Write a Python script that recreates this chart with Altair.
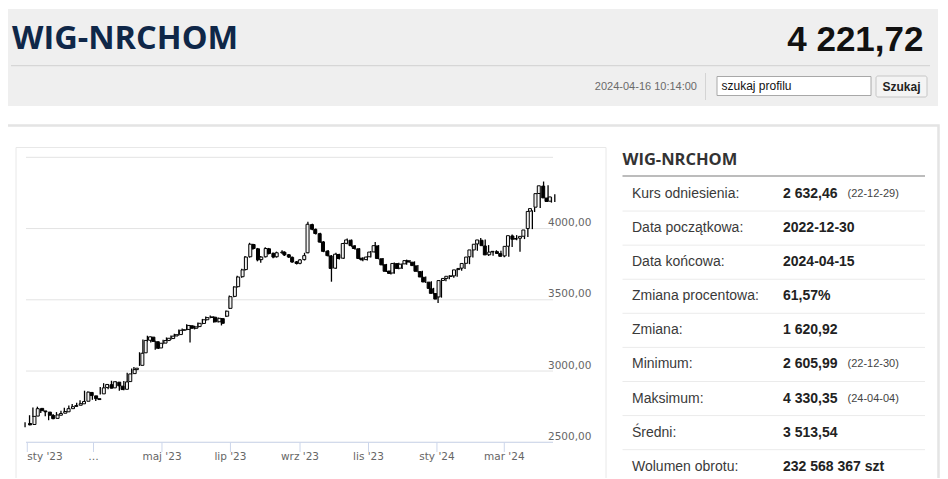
import altair as alt
import pandas as pd

# ---------------- texts ----------------
TITLE = "WIG-NRCHOM"
LAST_PRICE = "4 221,72"
TIMESTAMP = "2024-04-16 10:14:00"
SEARCH_PLACEHOLDER = "szukaj profilu"
SEARCH_BUTTON = "Szukaj"

# ---------------- candle data ----------------
dates = [
    "2022-12-30", "2023-01-03", "2023-01-06", "2023-01-10", "2023-01-13", "2023-01-17", "2023-01-20",
    "2023-01-24", "2023-01-27", "2023-01-31", "2023-02-03", "2023-02-07", "2023-02-10", "2023-02-14",
    "2023-02-17", "2023-02-21", "2023-02-24", "2023-02-28", "2023-03-03", "2023-03-07", "2023-03-10",
    "2023-03-14", "2023-03-17", "2023-03-21", "2023-03-24", "2023-03-28", "2023-03-31", "2023-04-04",
    "2023-04-06", "2023-04-11", "2023-04-14", "2023-04-18", "2023-04-21", "2023-04-25", "2023-04-28",
    "2023-05-02", "2023-05-05", "2023-05-09", "2023-05-12", "2023-05-16", "2023-05-19", "2023-05-23",
    "2023-05-26", "2023-05-30", "2023-06-02", "2023-06-06", "2023-06-09", "2023-06-13", "2023-06-16",
    "2023-06-20", "2023-06-23", "2023-06-27", "2023-06-30", "2023-07-04", "2023-07-07", "2023-07-11",
    "2023-07-14", "2023-07-18", "2023-07-21", "2023-07-25", "2023-07-28", "2023-08-01", "2023-08-04",
    "2023-08-08", "2023-08-11", "2023-08-16", "2023-08-18", "2023-08-22", "2023-08-25", "2023-08-29",
    "2023-09-01", "2023-09-05", "2023-09-08", "2023-09-12", "2023-09-15", "2023-09-19", "2023-09-22",
    "2023-09-26", "2023-09-29", "2023-10-03", "2023-10-06", "2023-10-10", "2023-10-13", "2023-10-17",
    "2023-10-20", "2023-10-24", "2023-10-27", "2023-10-31", "2023-11-03", "2023-11-07", "2023-11-10",
    "2023-11-14", "2023-11-17", "2023-11-21", "2023-11-24", "2023-11-28", "2023-12-01", "2023-12-05",
    "2023-12-08", "2023-12-12", "2023-12-15", "2023-12-19", "2023-12-22", "2023-12-27", "2023-12-29",
    "2024-01-02", "2024-01-05", "2024-01-09", "2024-01-12", "2024-01-16", "2024-01-19", "2024-01-23",
    "2024-01-26", "2024-01-30", "2024-02-02", "2024-02-06", "2024-02-09", "2024-02-13", "2024-02-16",
    "2024-02-20", "2024-02-23", "2024-02-27", "2024-03-01", "2024-03-05", "2024-03-08", "2024-03-12",
    "2024-03-15", "2024-03-19", "2024-03-22", "2024-03-26", "2024-03-28", "2024-04-02", "2024-04-05",
    "2024-04-09", "2024-04-12", "2024-04-15",
]
opens = [
    2632, 2625, 2684, 2738, 2720, 2712, 2688, 2668, 2690, 2704, 2714, 2736, 2752, 2760,
    2770, 2788, 2850, 2826, 2806, 2840, 2884, 2904, 2882, 2922, 2894, 2872, 2926, 2982,
    3010, 3040, 3128, 3216, 3238, 3206, 3162, 3196, 3214, 3228, 3246, 3256, 3286, 3292,
    3318, 3300, 3312, 3334, 3360, 3376, 3378, 3346, 3368, 3385, 3440, 3524, 3592, 3662,
    3712, 3802, 3888, 3858, 3782, 3802, 3858, 3826, 3802, 3830, 3834, 3816, 3798, 3766,
    3756, 3782, 3830, 4028, 3994, 3964, 3906, 3842, 3808, 3722, 3818, 3792, 3896, 3918,
    3878, 3858, 3792, 3782, 3802, 3836, 3878, 3788, 3746, 3702, 3688, 3754, 3722, 3752,
    3774, 3764, 3738, 3698, 3658, 3624, 3578, 3544, 3520, 3636, 3650, 3664, 3668, 3712,
    3722, 3756, 3802, 3850, 3892, 3918, 3878, 3816, 3836, 3838, 3824, 3808, 3876, 3948,
    3926, 3932, 3946, 4000, 4122, 4150, 4246, 4298, 4214, 4192,
]
highs = [
    2640, 2690, 2745, 2750, 2735, 2718, 2695, 2698, 2712, 2722, 2742, 2758, 2768, 2778,
    2795, 2862, 2856, 2834, 2815, 2888, 2915, 2910, 2932, 2928, 2900, 2930, 2988, 3018,
    3028, 3132, 3222, 3248, 3242, 3212, 3200, 3220, 3236, 3250, 3262, 3292, 3298, 3328,
    3322, 3318, 3340, 3366, 3382, 3390, 3384, 3376, 3372, 3425, 3530, 3595, 3668, 3718,
    3808, 3900, 3894, 3864, 3808, 3868, 3864, 3832, 3838, 3848, 3840, 3822, 3804, 3772,
    3786, 3830, 4048, 4034, 4000, 3970, 3912, 3850, 3814, 3830, 3824, 3900, 3930, 3924,
    3884, 3862, 3798, 3808, 3842, 3905, 3884, 3794, 3752, 3708, 3762, 3760, 3756, 3782,
    3780, 3770, 3744, 3704, 3664, 3630, 3584, 3550, 3642, 3658, 3672, 3676, 3716, 3728,
    3762, 3806, 3856, 3896, 3934, 3924, 3884, 3842, 3848, 3844, 3830, 3880, 3958, 3954,
    3940, 3950, 3996, 4128, 4150, 4252, 4330, 4304, 4220, 4240,
]
lows = [
    2606, 2620, 2678, 2712, 2705, 2682, 2655, 2662, 2684, 2695, 2708, 2728, 2740, 2750,
    2762, 2782, 2820, 2798, 2790, 2836, 2876, 2872, 2878, 2890, 2862, 2866, 2920, 2976,
    3002, 3036, 3120, 3206, 3200, 3150, 3155, 3188, 3205, 3220, 3236, 3250, 3278, 3286,
    3200, 3292, 3305, 3328, 3352, 3370, 3340, 3340, 3320, 3380, 3436, 3518, 3586, 3655,
    3705, 3796, 3852, 3770, 3760, 3796, 3818, 3792, 3796, 3824, 3808, 3794, 3760, 3748,
    3750, 3776, 3826, 3988, 3958, 3900, 3834, 3804, 3627, 3716, 3782, 3786, 3890, 3872,
    3852, 3784, 3770, 3776, 3796, 3830, 3784, 3740, 3695, 3678, 3682, 3714, 3716, 3746,
    3758, 3734, 3694, 3654, 3618, 3574, 3538, 3478, 3515, 3630, 3644, 3655, 3662, 3704,
    3716, 3750, 3796, 3844, 3886, 3874, 3808, 3810, 3828, 3818, 3798, 3802, 3870, 3918,
    3838, 3926, 3940, 3996, 4116, 4145, 4240, 4208, 4182, 4186,
]
closes = [
    2622, 2682, 2736, 2722, 2714, 2690, 2666, 2692, 2702, 2716, 2736, 2750, 2758, 2771,
    2786, 2852, 2828, 2806, 2800, 2882, 2906, 2880, 2925, 2896, 2870, 2924, 2980, 3010,
    3020, 3125, 3215, 3240, 3208, 3160, 3195, 3214, 3230, 3245, 3255, 3286, 3290, 3320,
    3300, 3310, 3335, 3360, 3375, 3380, 3345, 3370, 3335, 3420, 3522, 3590, 3660, 3710,
    3800, 3890, 3860, 3780, 3800, 3860, 3825, 3800, 3830, 3835, 3815, 3800, 3765, 3755,
    3780, 3810, 4030, 3995, 3965, 3905, 3840, 3810, 3720, 3820, 3790, 3895, 3920, 3880,
    3860, 3790, 3780, 3800, 3835, 3880, 3790, 3745, 3700, 3685, 3755, 3720, 3750, 3775,
    3765, 3740, 3700, 3660, 3625, 3580, 3545, 3505, 3635, 3650, 3665, 3668, 3710, 3720,
    3755, 3800, 3850, 3890, 3920, 3880, 3815, 3835, 3840, 3825, 3805, 3875, 3950, 3925,
    3930, 3945, 3990, 4120, 4140, 4245, 4300, 4215, 4190, 4222,
]

# ---------------- axes ----------------
y_ticks = [2500, 3000, 3500, 4000, 4500]
y_tick_labels = ["2500,00", "3000,00", "3500,00", "4000,00", ""]
x_ticks = ["2023-01-01", "2023-03-01", "2023-05-01", "2023-07-01",
           "2023-09-01", "2023-11-01", "2024-01-01", "2024-03-01"]
x_tick_labels = ["sty '23", "…", "maj '23", "lip '23", "wrz '23", "lis '23", "sty '24", "mar '24"]

# ---------------- statistics table ----------------
stat_labels = ["Kurs odniesienia:", "Data początkowa:", "Data końcowa:", "Zmiana procentowa:",
               "Zmiana:", "Minimum:", "Maksimum:", "Średni:", "Wolumen obrotu:"]
stat_values = ["2 632,46", "2022-12-30", "2024-04-15", "61,57%", "1 620,92",
               "2 605,99", "4 330,35", "3 513,54", "232 568 367 szt"]
stat_notes = ["(22-12-29)", "", "", "", "", "(22-12-30)", "(24-04-04)", "", ""]


# ---------------- layout helpers (page px -> canvas px) ----------------
def px(v):
    return v - 8


def py(v):
    return v - 8


def one():
    return alt.Chart(alt.Data(values=[{"k": 0}]))


def rect(x0, x1, y0, y1, **kw):
    return one().mark_rect(**kw).encode(
        x=alt.value(px(x0)), x2=alt.value(px(x1)), y=alt.value(py(y0)), y2=alt.value(py(y1)))


def hline(x0, x1, y, color, w=1):
    return one().mark_rule(color=color, strokeWidth=w).encode(
        x=alt.value(px(x0)), x2=alt.value(px(x1)), y=alt.value(py(y)))


def vline(x, y0, y1, color, w=1):
    return one().mark_rule(color=color, strokeWidth=w).encode(
        x=alt.value(px(x)), y=alt.value(py(y0)), y2=alt.value(py(y1)))


def label(text, x, y, **kw):
    return one().mark_text(text=text, **kw).encode(x=alt.value(px(x)), y=alt.value(py(y)))


SANS = "Liberation Sans, Arial, sans-serif"
AXF = "DejaVu Sans"

X_SCALE = alt.Scale(
    domain=[alt.DateTime(year=2022, month=12, date=30, utc=True),
            alt.DateTime(year=2024, month=4, date=15, utc=True)],
    range=[px(25.05), px(554.8)], nice=False)
Y_SCALE = alt.Scale(domain=[2500, 4500], range=[py(442.3), py(157.3)], nice=False, zero=False)
ROW_SCALE = alt.Scale(domain=[0, 8], range=[py(194), py(466.7)], nice=False, zero=False)

layers = []

# header
layers.append(rect(2, 938, 9, 106, fill="#efefef"))
layers.append(label(TITLE, 12, 49.3, font="Open Sans", fontSize=32.5, fontWeight="bold",
                    color="#0f2748", align="left", baseline="alphabetic"))
layers.append(label(LAST_PRICE, 923.5, 50.7, font=SANS, fontSize=35, fontWeight="bold",
                    color="#111111", align="right", baseline="alphabetic"))
layers.append(hline(11, 930, 65.7, "#d6d6d6", 1.2))
layers.append(label(TIMESTAMP, 697, 86.7, font=SANS, fontSize=11, color="#6a6a6a",
                    align="right", baseline="middle"))
layers.append(vline(705.5, 73, 100, "#d4d4d4"))
layers.append(rect(717, 871, 76.5, 95.5, fill="#ffffff", stroke="#a8a8a8", strokeWidth=1))
layers.append(label(SEARCH_PLACEHOLDER, 721.5, 86.2, font=SANS, fontSize=12, color="#111111",
                    align="left", baseline="middle"))
layers.append(rect(876, 927, 76, 97, fill="#f4f4f4", stroke="#c6c6c6", strokeWidth=1, cornerRadius=2))
layers.append(label(SEARCH_BUTTON, 901.5, 86.7, font=SANS, fontSize=12, fontWeight="bold",
                    color="#222222", align="center", baseline="middle"))

# content boxes
layers.append(rect(-10, 938.5, 125.5, 520, fill="#ffffff", stroke="#e4e4e4", strokeWidth=2.5))
layers.append(rect(16, 606, 147.5, 520, fill="#ffffff", stroke="#e8e8e8", strokeWidth=1))

# chart grid + axes
gdf = pd.DataFrame({"v": y_ticks, "lab": y_tick_labels})
layers.append(alt.Chart(gdf).mark_rule(color="#e3e3e3", strokeWidth=1).encode(
    y=alt.Y("v:Q", scale=Y_SCALE, axis=None), x=alt.value(px(26)), x2=alt.value(px(553))))
layers.append(alt.Chart(gdf).transform_filter(alt.datum.v == y_ticks[0]).mark_rule(
    color="#ccd6eb", strokeWidth=1).encode(
    y=alt.Y("v:Q", scale=Y_SCALE, axis=None), x=alt.value(px(26)), x2=alt.value(px(553))))
layers.append(alt.Chart(gdf).mark_text(font=AXF, fontSize=10.5, color="#666666", align="left",
                                       baseline="alphabetic", dy=-2.5).encode(
    y=alt.Y("v:Q", scale=Y_SCALE, axis=None), x=alt.value(px(548)), text="lab:N"))

xdf = pd.DataFrame({"d": x_ticks, "lab": x_tick_labels, "i": list(range(len(x_ticks)))})
layers.append(alt.Chart(xdf).mark_rule(color="#ccd6eb", strokeWidth=1).encode(
    x=alt.X("d:T", scale=X_SCALE, axis=None), y=alt.value(py(442.3)), y2=alt.value(py(452))))
layers.append(alt.Chart(xdf).transform_filter(alt.datum.i == 0).mark_text(
    font=AXF, fontSize=10.5, color="#666666", align="left", baseline="middle").encode(
    x=alt.X("d:T", scale=X_SCALE, axis=None), y=alt.value(py(457)), text="lab:N"))
layers.append(alt.Chart(xdf).transform_filter(alt.datum.i > 0).mark_text(
    font=AXF, fontSize=10.5, color="#666666", align="center", baseline="middle").encode(
    x=alt.X("d:T", scale=X_SCALE, axis=None), y=alt.value(py(457)), text="lab:N"))

# candles
cdf = pd.DataFrame({"date": dates, "open": opens, "high": highs, "low": lows, "close": closes})
cbase = alt.Chart(cdf).transform_calculate(
    dir="datum.close >= datum.open ? 'up' : 'down'")
layers.append(cbase.mark_rule(color="#000000", strokeWidth=1.3).encode(
    x=alt.X("date:T", scale=X_SCALE, axis=None),
    y=alt.Y("low:Q", scale=Y_SCALE, axis=None), y2="high:Q"))
layers.append(cbase.mark_bar(size=3.0, stroke="#000000", strokeWidth=1).encode(
    x=alt.X("date:T", scale=X_SCALE, axis=None),
    y=alt.Y("open:Q", scale=Y_SCALE, axis=None), y2="close:Q",
    fill=alt.Fill("dir:N", scale=alt.Scale(domain=["up", "down"], range=["#f2f2f2", "#000000"]),
                  legend=None)))

# statistics panel
layers.append(label(TITLE, 622.5, 165, font="Open Sans", fontSize=16.5, fontWeight="bold",
                    color="#333333", align="left", baseline="alphabetic"))
layers.append(hline(622.5, 925, 176, "#a6a6a6", 1.5))
tdf = pd.DataFrame({"row": list(range(len(stat_labels))), "label": stat_labels,
                    "value": stat_values, "note": stat_notes})
tbase = alt.Chart(tdf)
layers.append(tbase.transform_filter(alt.datum.row < len(stat_labels) - 1).transform_calculate(
    s="datum.row + 0.5").mark_rule(color="#ebebeb", strokeWidth=1).encode(
    y=alt.Y("s:Q", scale=ROW_SCALE, axis=None), x=alt.value(px(622.5)), x2=alt.value(px(925))))
layers.append(tbase.mark_text(font=SANS, fontSize=14, color="#3a3a3a", align="left",
                              baseline="middle").encode(
    y=alt.Y("row:Q", scale=ROW_SCALE, axis=None), x=alt.value(px(632)), text="label:N"))
layers.append(tbase.mark_text(font=SANS, fontSize=14, fontWeight="bold", color="#222222",
                              align="left", baseline="middle").encode(
    y=alt.Y("row:Q", scale=ROW_SCALE, axis=None), x=alt.value(px(783)), text="value:N"))
layers.append(tbase.transform_filter(alt.datum.note != "").mark_text(
    font=SANS, fontSize=11, color="#444444", align="left", baseline="middle").encode(
    y=alt.Y("row:Q", scale=ROW_SCALE, axis=None), x=alt.value(px(847.5)), text="note:N"))

chart = alt.layer(*layers).resolve_scale(
    x="independent", y="independent", fill="independent"
).properties(
    width=932, height=470, padding=0, background="#ffffff",
    autosize=alt.AutoSizeParams(type="none"),
).configure_view(stroke=None)

chart.save("out.html", embed_options={"renderer": "svg", "actions": False})
